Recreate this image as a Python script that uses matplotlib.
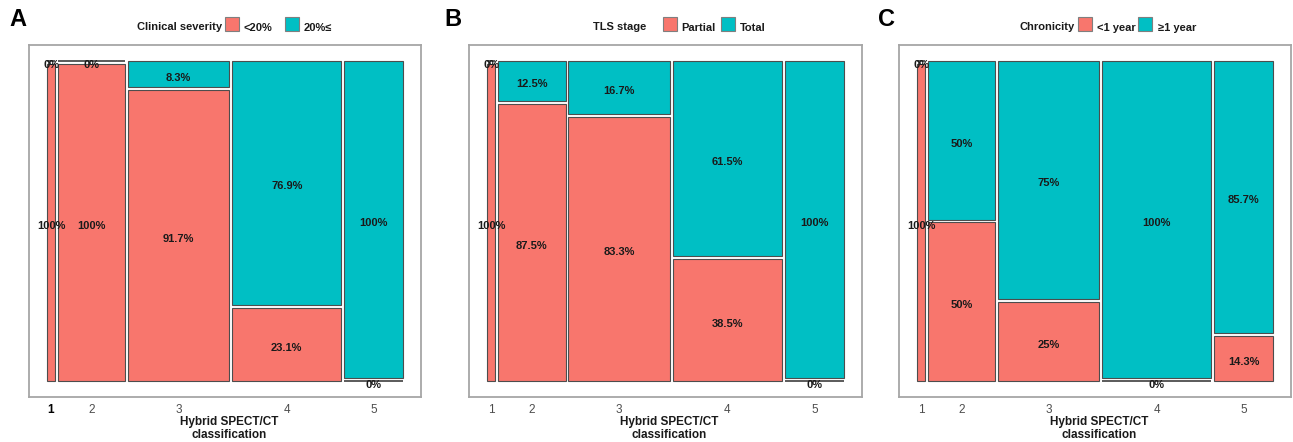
import numpy as np
import matplotlib
matplotlib.use("Agg")
import matplotlib.pyplot as plt
from matplotlib.patches import Rectangle

plt.rcParams['font.family'] = ['Liberation Sans', 'DejaVu Sans']

# data: counts per Hybrid SPECT/CT class
classes = ['1', '2', '3', '4', '5']

severity_title = 'Clinical severity'
severity_labels = ['<20%', '20%≤']
severity_low = [1, 8, 11, 3, 0]
severity_high = [0, 0, 1, 10, 7]

tls_title = 'TLS stage'
tls_labels = ['Partial', 'Total']
tls_partial = [1, 7, 10, 5, 0]
tls_total = [0, 1, 2, 8, 7]

chron_title = 'Chronicity'
chron_labels = ['<1 year', '≥1 year']
chron_short = [1, 4, 3, 0, 1]
chron_long = [0, 4, 9, 13, 6]

RED = '#F8766D'
TEAL = '#00BFC4'
EDGE = '#4d4d4d'
W, H = 1293, 442


def fmt(p):
    s = '{:.1f}'.format(p)
    if s.endswith('.0'):
        s = s[:-2]
    return s + '%'


def px(x, y):
    # pixel (from top-left) -> figure fraction
    return x / W, 1 - y / H


def mosaic(ax, bottom, top, xgap=0.008, ygap=0.009):
    bottom = np.array(bottom, float)
    top = np.array(top, float)
    n = bottom + top
    widths = n / n.sum() * (1 - xgap * (len(n) - 1))
    x0 = 0.0
    centers = []
    for i in range(len(n)):
        w = widths[i]
        p = bottom[i] / n[i]
        hb = p * (1 - ygap)
        # bottom tile
        ax.add_patch(Rectangle((x0, 0), w, hb, facecolor=RED, edgecolor=EDGE,
                               lw=0.8 if hb > 0 else 1.3))
        # top tile
        yt = hb + ygap if hb > 0 else ygap
        ht = 1 - yt if top[i] > 0 else 0
        if top[i] == 0:
            yt = 1.0
        ax.add_patch(Rectangle((x0, yt), w, ht, facecolor=TEAL, edgecolor=EDGE,
                               lw=0.8 if ht > 0 else 1.3))
        cx = x0 + w / 2
        ax.text(cx, hb / 2 - 0.011, fmt(100 * p), ha='center', va='center',
                fontsize=8, fontweight='bold', color='#1a1a1a')
        ax.text(cx, yt + ht / 2 - 0.011, fmt(100 * (1 - p)), ha='center', va='center',
                fontsize=8, fontweight='bold', color='#1a1a1a')
        centers.append(cx)
        x0 += w + xgap
    ax.set_xlim(-0.05, 1.05)
    ax.set_ylim(-0.05, 1.05)
    ax.set_xticks(centers)
    ax.set_xticklabels(classes, fontsize=8.5, color='#4d4d4d')
    ax.tick_params(axis='x', length=0, pad=5)
    ax.set_yticks([])
    for s in ax.spines.values():
        s.set_color('#a6a6a6')
        s.set_linewidth(1.3)


def legend(fig, title, labels, xt, xk1, xl1, xk2, xl2):
    fig.text(*px(xt, 27), title, fontsize=8, fontweight='bold', va='center',
             color='#1a1a1a')
    for xk, xl, col, lab in [(xk1, xl1, RED, labels[0]), (xk2, xl2, TEAL, labels[1])]:
        x, y = px(xk, 31)
        fig.patches.append(Rectangle((x, y), 14 / W, 14 / H, transform=fig.transFigure,
                                     facecolor=col, edgecolor='#7f7f7f', lw=0.8))
        fig.text(*px(xl, 28), lab, fontsize=8, fontweight='bold', va='center',
                 color='#1a1a1a')


fig = plt.figure(figsize=(W / 100, H / 100), dpi=100)

boxes = [(29, 421), (469, 862), (899, 1291)]
data = [(severity_low, severity_high), (tls_partial, tls_total), (chron_short, chron_long)]
axes = []
for (l, r), (b, t) in zip(boxes, data):
    ax = fig.add_axes([l / W, (H - 397) / H, (r - l) / W, 352 / H])
    mosaic(ax, b, t)
    cx = (l + r) / 2 + 4
    fig.text(*px(cx, 422), 'Hybrid SPECT/CT', ha='center', va='center',
             fontsize=8.5, fontweight='bold', color='#1a1a1a')
    fig.text(*px(cx, 435), 'classification', ha='center', va='center',
             fontsize=8.5, fontweight='bold', color='#1a1a1a')
    axes.append(ax)

# in panel A the first tick label is printed darker
axes[0].get_xticklabels()[0].set_color('black')
axes[0].get_xticklabels()[0].set_fontweight('bold')

legend(fig, severity_title, severity_labels, 137, 225, 243, 285, 304)
legend(fig, tls_title, tls_labels, 593, 663, 681, 721, 740)
legend(fig, chron_title, chron_labels, 1020, 1078, 1097, 1138, 1158)

for letter, x in [('A', 9), ('B', 444), ('C', 878)]:
    fig.text(*px(x, 20), letter, fontsize=17, fontweight='bold', va='center')

fig.savefig('out.png', dpi=100)
